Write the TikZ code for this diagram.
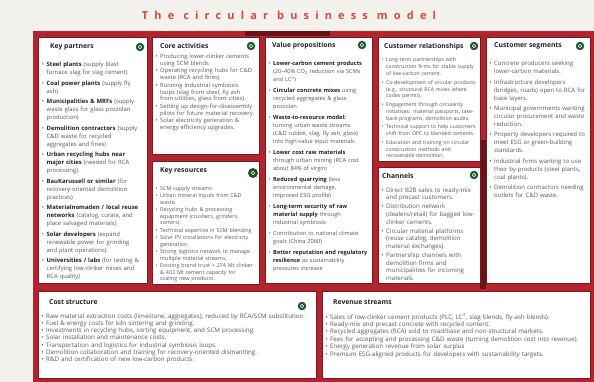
\documentclass[tikz,border=0pt]{standalone}
\usepackage{fontspec}
\setmainfont{Open Sans}
\usepackage{enumitem}
\setlist[itemize]{nosep,leftmargin=6pt,labelsep=2.5pt,label=\textbullet}
\definecolor{bgcol}{RGB}{243,241,235}
\definecolor{framered}{RGB}{178,36,46}
\definecolor{darkred}{RGB}{105,18,26}
\definecolor{cellline}{RGB}{120,24,32}
\definecolor{titlecol}{RGB}{214,72,64}
\definecolor{headcol}{RGB}{34,34,34}
\definecolor{bodycol}{RGB}{88,88,88}
\definecolor{iconcol}{RGB}{30,88,42}
\newcommand\bsize[2]{\fontsize{#1}{#2}\selectfont}
\newcommand\hl[1]{\textbf{\color{headcol}#1}}
\tikzset{
  cell/.style={draw=cellline, line width=.5pt, fill=white, anchor=north west, inner sep=0pt},
  head/.style={anchor=west, inner sep=0pt, font=\bsize{6.8}{8}\bfseries, text=headcol},
  blist/.style={anchor=north west, inner sep=0pt, align=left, text=bodycol},
  badge/.style={circle, fill=iconcol, minimum size=8.5pt, inner sep=0pt,
    path picture={\draw[white, line width=.6pt] (path picture bounding box.center) circle (1.7pt);}},
}
\begin{document}
\begin{tikzpicture}[x=1pt,y=-1pt]
\useasboundingbox (0,0) rectangle (594,382);
\fill[bgcol] (0,0) rectangle (594,382);
\node[font=\bsize{11}{13}\bfseries\addfontfeature{LetterSpace=56}, text=titlecol] (ttl) at (289,15) {The circular business model};
% red frame
\fill[framered] (33,31) rectangle (594,382);
\fill[darkred] (245,31) rectangle (330,36.5);
\fill[darkred] (480,140) rectangle (486,289);
% cells
\node[cell, minimum width=109pt, minimum height=246pt] (kp) at (38,37) {};
\node[cell, minimum width=107pt, minimum height=117pt] (ca) at (152,37) {};
\node[cell, minimum width=107pt, minimum height=123pt] (kr) at (152,161) {};
\node[cell, minimum width=107pt, minimum height=246pt] (vp) at (265,37) {};
\node[cell, minimum width=102pt, minimum height=124pt] (cr) at (378,37) {};
\node[cell, minimum width=102pt, minimum height=116pt] (ch) at (378,167) {};
\node[cell, minimum width=104pt, minimum height=246pt] (cs) at (486,37) {};
\node[cell, minimum width=278pt, minimum height=87pt] (co) at (38,291) {};
\node[cell, minimum width=268pt, minimum height=87pt] (rv) at (322,291) {};
% headers
\node[head] (kp-h) at ([shift={(12,10)}]kp.north west) {Key partners};
\node[head] (ca-h) at ([shift={(8,9)}]ca.north west) {Core activities};
\node[head] (kr-h) at ([shift={(8,10)}]kr.north west) {Key resources};
\node[head] (vp-h) at ([shift={(7,9)}]vp.north west) {Value propositions};
\node[head] (cr-h) at ([shift={(6,10)}]cr.north west) {Customer relationships};
\node[head] (ch-h) at ([shift={(4,9)}]ch.north west) {Channels};
\node[head] (cs-h) at ([shift={(8,9)}]cs.north west) {Customer segments};
\node[head] (co-h) at ([shift={(11,11)}]co.north west) {Cost structure};
\node[head] (rv-h) at ([shift={(11,11)}]rv.north west) {Revenue streams};
% icons
\node[badge] (kp-i) at ([shift={(102,10)}]kp.north west) {};
\node[badge] (ca-i) at ([shift={(99,9)}]ca.north west) {};
\node[badge, minimum size=10pt] (kr-i) at ([shift={(101,12)}]kr.north west) {};
\node[badge] (vp-i) at ([shift={(97,8)}]vp.north west) {};
\node[badge] (cr-i) at ([shift={(96,9)}]cr.north west) {};
\node[badge] (ch-i) at ([shift={(96,8)}]ch.north west) {};
\node[badge] (cs-i) at ([shift={(94,9)}]cs.north west) {};
\node[badge] (co-i) at ([shift={(264,15)}]co.north west) {};
% lists
\node[blist, text width=106pt, font=\bsize{5.9}{8}] (kp-l) at ([shift={(2.5,21.5)}]kp.north west) {%
\begin{itemize}[itemsep=2.5pt]
\item \hl{Steel plants} (supply blast\\ furnace slag for slag cement)
\item \hl{Coal power plants} (supply fly\\ ash)
\item \hl{Municipalities \& MRFs} (supply\\ waste glass for glass pozzolan\\ production)
\item \hl{Demolition contractors} (supply\\ C\&D waste for recycled\\ aggregates and fines)
\item \hl{Urban recycling hubs near}\\ \hl{major cities} (needed for RCA\\ processing).
\item \hl{BauKarussell or similar} (for\\ recovery-oriented demolition\\ practices)
\item \hl{Materialnomaden / local reuse}\\ \hl{networks} (catalog, curate, and\\ place salvaged materials)
\item \hl{Solar developers} (expand\\ renewable power for grinding\\ and plant operations)
\item \hl{Universities / labs} (for testing \&\\ certifying low-clinker mixes and\\ RCA quality)
\end{itemize}};
\node[blist, text width=104pt, font=\bsize{5.8}{6.8}] (ca-l) at ([shift={(2,14.5)}]ca.north west) {%
\begin{itemize}[itemsep=0.8pt]
\item Producing lower-clinker cements\\ using SCM blends
\item Operating recycling hubs for C\&D\\ waste (RCA and fines)
\item Running industrial symbiosis\\ loops (slag from steel, fly ash\\ from utilities, glass from cities).
\item Setting up design-for-disassembly\\ pilots for future material recovery.
\item Solar electricity generation \&\\ energy efficiency upgrades.
\end{itemize}};
\node[blist, text width=104pt, font=\bsize{5.4}{6.5}] (kr-l) at ([shift={(2,22.5)}]kr.north west) {%
\begin{itemize}[itemsep=1pt]
\item SCM supply streams.
\item Urban mineral inputs from C\&D\\ waste.
\item Recycling hubs \& processing\\ equipment (crushers, grinders,\\ sorters).
\item Technical expertise in SCM blending
\item Solar PV installations for electricity\\ generation.
\item Strong logistics network to manage\\ multiple material streams.
\item Existing brand trust + 274 Mt clinker\\ \& 403 Mt cement capacity for\\ scaling new products.
\end{itemize}};
\node[blist, text width=105pt, font=\bsize{5.65}{8}] (vp-l) at ([shift={(2,20.5)}]vp.north west) {%
\begin{itemize}[itemsep=3pt]
\item \hl{Lower-carbon cement products}\\ (20--40\% CO\textsubscript{2} reduction via SCMs\\ and LC\textsuperscript{3})
\item \hl{Circular concrete mixes} using\\ recycled aggregates \& glass\\ pozzolan
\item \hl{Waste-to-resource model:}\\ turning urban waste streams\\ (C\&D rubble, slag, fly ash, glass)\\ into high-value input materials
\item \hl{Lower cost raw materials}\\ through urban mining (RCA cost\\ about 84\% of virgin)
\item \hl{Reduced quarrying} (less\\ environmental damage,\\ improved ESG profile)
\item \hl{Long-term security of raw}\\ \hl{material supply} through\\ industrial symbiosis
\item Contribution to national climate\\ goals (China 2060)
\item \hl{Better reputation and regulatory}\\ \hl{resilience} as sustainability\\ pressures increase
\end{itemize}};
\node[blist, text width=99pt, font=\bsize{5.2}{6.9}] (cr-l) at ([shift={(2,17.8)}]cr.north west) {%
\begin{itemize}[itemsep=1.6pt]
\item Long-term partnerships with\\ construction firms for stable supply\\ of low-carbon cement.
\item Co-development of circular products\\ (e.g., structural RCA mixes where\\ codes permit).
\item Engagement through circularity\\ initiatives: material passports, take-\\ back programs, demolition audits.
\item Technical support to help customers\\ shift from OPC to blended cements.
\item Education and training on circular\\ construction methods and\\ recoverable demolition.
\end{itemize}};
\node[blist, text width=99pt, font=\bsize{6.1}{7.6}] (ch-l) at ([shift={(2,17.5)}]ch.north west) {%
\begin{itemize}[itemsep=1.5pt]
\item Direct B2B sales to ready-mix\\ and precast customers.
\item Distribution network\\ (dealers/retail) for bagged low-\\ clinker cements.
\item Circular material platforms\\ (reuse catalog, demolition\\ material exchanges).
\item Partnership channels with\\ demolition firms and\\ municipalities for incoming\\ materials.
\end{itemize}};
\node[blist, text width=101pt, font=\bsize{6}{8}] (cs-l) at ([shift={(2,20.5)}]cs.north west) {%
\begin{itemize}[itemsep=2.4pt]
\item Concrete producers seeking\\ lower-carbon materials.
\item Infrastructure developers\\ (bridges, roads) open to RCA for\\ base layers.
\item Municipal governments wanting\\ circular procurement and waste\\ reduction.
\item Property developers required to\\ meet ESG or green-building\\ standards.
\item Industrial firms wanting to use\\ their by-products (steel plants,\\ coal plants).
\item Demolition contractors needing\\ outlets for C\&D waste.
\end{itemize}};
\node[blist, text width=276pt, font=\bsize{6.2}{7.3}] (co-l) at ([shift={(2,19.5)}]co.north west) {%
\begin{itemize}
\item Raw material extraction costs (limestone, aggregates), reduced by RCA/SCM substitution.
\item Fuel \& energy costs for kiln sintering and grinding.
\item Investments in recycling hubs, sorting equipment, and SCM processing.
\item Solar installation and maintenance costs.
\item Transportation and logistics for industrial symbiosis loops.
\item Demolition collaboration and training for recovery-oriented dismantling.
\item R\&D and certification of new low-carbon products.
\end{itemize}};
\node[blist, text width=266pt, font=\bsize{6.2}{7.4}] (rv-l) at ([shift={(2,20.5)}]rv.north west) {%
\begin{itemize}
\item Sales of low-clinker cement products (PLC, LC\textsuperscript{3}, slag blends, fly-ash blends).
\item Ready-mix and precast concrete with recycled content.
\item Recycled aggregates (RCA) sold to road/base and non-structural markets.
\item Fees for accepting and processing C\&D waste (turning demolition cost into revenue).
\item Energy generation revenue from solar surplus
\item Premium ESG-aligned products for developers with sustainability targets.
\end{itemize}};
\end{tikzpicture}
\end{document}
